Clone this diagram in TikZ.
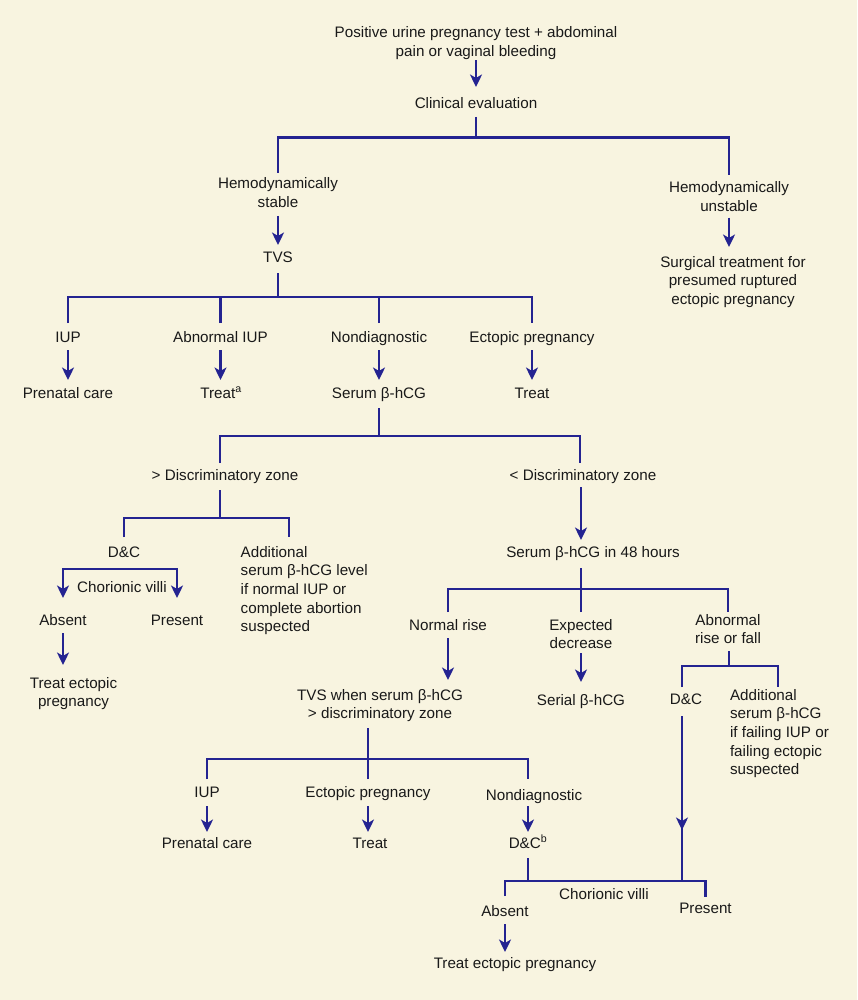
\documentclass[tikz,border=0pt]{standalone}
\usepackage{fontspec}
\setmainfont{Liberation Sans}
\usetikzlibrary{arrows.meta}
\definecolor{bgc}{RGB}{248,244,224}
\definecolor{lnc}{RGB}{36,35,145}
\definecolor{txc}{RGB}{25,25,25}
\newcommand{\fsz}{\fontsize{15.2pt}{18.7pt}\selectfont}
\begin{document}
\begin{tikzpicture}[x=1pt,y=-1pt,
  lbl/.style={font=\fsz, text=txc, inner sep=0pt, outer sep=0pt, anchor=base, align=center},
  lbll/.style={lbl, anchor=base west, align=left},
  conn/.style={draw=lnc, line width=2.9pt},
  arr/.style={conn, -{Stealth[length=12.5pt,width=12pt,inset=3.5pt]}},
]
\fill[bgc] (0,0) rectangle (857,1000);
\useasboundingbox (0,0) rectangle (857,1000);

% nodes (multi-line nodes are placed by the baseline of their last line)
\node[lbl] (top) at (476,56.7) {Positive urine pregnancy test + abdominal\\pain or vaginal bleeding};
\node[lbl] (clin) at (476,109) {Clinical evaluation};
\node[lbl] (stab) at (278,207.2) {Hemodynamically\\stable};
\node[lbl] (unst) at (729,211.7) {Hemodynamically\\unstable};
\node[lbl] (tvs) at (278,262.5) {TVS};
\node[lbl] (surg) at (733,304.4) {Surgical treatment for\\presumed ruptured\\ectopic pregnancy};
\node[lbl] (iupA) at (68,342) {IUP};
\node[lbl] (aiup) at (220.5,342) {Abnormal IUP};
\node[lbl] (ndA) at (379,342) {Nondiagnostic};
\node[lbl] (epA) at (532,342) {Ectopic pregnancy};
\node[lbl] (pcA) at (68,398) {Prenatal care};
\node[lbl] (trAa) at (221,398) {Treat\textsuperscript{a}};
\node[lbl] (ser) at (379,398) {Serum β-hCG};
\node[lbl] (trA) at (532,398) {Treat};
\node[lbl] (gz) at (225,480) {> Discriminatory zone};
\node[lbl] (lz) at (583,480) {< Discriminatory zone};
\node[lbl] (dcA) at (124,557) {D\&C};
\node[lbll] (addA) at (240.7,631.8) {Additional\\serum β-hCG level\\if normal IUP or\\complete abortion\\suspected};
\node[lbl] (cvA) at (122,592) {Chorionic villi};
\node[lbl] (absA) at (63,625) {Absent};
\node[lbl] (preA) at (177,625) {Present};
\node[lbl] (tepA) at (73.5,706.7) {Treat ectopic\\pregnancy};
\node[lbl] (h48) at (593,557) {Serum β-hCG in 48 hours};
\node[lbl] (nr) at (448,630) {Normal rise};
\node[lbl] (ed) at (581,648.7) {Expected\\decrease};
\node[lbl] (ab) at (728,643.7) {Abnormal\\rise or fall};
\node[lbl] (tvsB) at (380,718.7) {TVS when serum β-hCG\\> discriminatory zone};
\node[lbl] (serial) at (581,705) {Serial β-hCG};
\node[lbl] (dcB) at (686,704) {D\&C};
\node[lbll] (addB) at (730,774.8) {Additional\\serum β-hCG\\if failing IUP or\\failing ectopic\\suspected};
\node[lbl] (iupB) at (207,797) {IUP};
\node[lbl] (epB) at (368,797) {Ectopic pregnancy};
\node[lbl] (ndB) at (534,800) {Nondiagnostic};
\node[lbl] (pcB) at (207,848) {Prenatal care};
\node[lbl] (trB) at (370,848) {Treat};
\node[lbl] (dcb) at (528,848) {D\&C\textsuperscript{b}};
\node[lbl] (cvB) at (604,899) {Chorionic villi};
\node[lbl] (absB) at (505,916) {Absent};
\node[lbl] (preB) at (705.5,913) {Present};
\node[lbl] (tepB) at (515,968) {Treat ectopic pregnancy};

% junctions
\coordinate (j1) at (476.5,137.5);
\coordinate (j2) at (278,297);
\coordinate (j3) at (379,436);
\coordinate (k3l) at (220,436);
\coordinate (k3r) at (580,436);
\coordinate (j4) at (220,518);
\coordinate (k4r) at (289,518);
\coordinate (j5) at ([yshift=-12pt]dcA.base);
\coordinate (j6) at (581,589);
\coordinate (j7) at (729,666);
\coordinate (k7l) at (682,666);
\coordinate (k7r) at (778,666);
\coordinate (m9) at (682,830);
\coordinate (j9r) at (682,881);
\coordinate (j8) at (368,759);
\coordinate (j9) at (528,881);

% connectors
\draw[arr] ([yshift=-3.5pt]top.base) -- ([yshift=22pt]clin.base);
\draw[conn] ([yshift=-8pt]clin.base) -- (clin.base |- j1);
\draw[conn] ([yshift=34.2pt]stab.base) |- (j1) -| ([yshift=36.7pt]unst.base);
\draw[arr] ([yshift=-8.8pt]stab.base) -- ([yshift=17.5pt]tvs.base);
\draw[arr] ([yshift=-6pt]unst.base) -- ([yshift=57.4pt]unst.base |- surg.base);

\draw[conn] ([yshift=-10.5pt]tvs.base) -- (j2);
\draw[conn] ([yshift=19pt]iupA.base) |- (j2) -| ([yshift=19pt]epA.base);
\draw[conn] ([yshift=19pt]aiup.base) -- (aiup.base |- j2);
\draw[conn] ([yshift=19pt]ndA.base) -- (ndA.base |- j2);

\draw[arr] ([yshift=-8pt]iupA.base) -- ([yshift=18pt]iupA.base |- pcA.base);
\draw[arr] ([yshift=-8pt]aiup.base) -- ([yshift=18pt]aiup.base |- trAa.base);
\draw[arr] ([yshift=-8pt]ndA.base) -- ([yshift=18pt]ndA.base |- ser.base);
\draw[arr] ([yshift=-8pt]epA.base) -- ([yshift=18pt]epA.base |- trA.base);

\draw[conn] ([yshift=-10pt]ser.base) -- (j3);
\draw[conn] ([yshift=17pt]gz.base -| k3l) |- (j3) -| ([yshift=17pt]lz.base -| k3r);

\draw[conn] ([yshift=-10pt]gz.base -| j4) -- (j4);
\draw[conn] ([yshift=20pt]dcA.base) |- (j4) -| ([yshift=20pt]dcA.base -| k4r);
\draw[arr] (j5) -| ([yshift=27pt]absA.base);
\draw[arr] (j5) -| ([yshift=27pt]preA.base);
\draw[arr] ([yshift=-8pt]absA.base) -- ([yshift=41.7pt]absA.base |- tepA.base);

\draw[arr] ([yshift=-7pt]lz.base -| j6) -- ([yshift=17pt]h48.base -| j6);
\draw[conn] ([yshift=-11pt]h48.base -| j6) -- (j6);
\draw[conn] ([yshift=18pt]nr.base) |- (j6) -| ([yshift=31.7pt]ab.base);
\draw[conn] ([yshift=36.7pt]ed.base) -- (ed.base |- j6);
\draw[arr] ([yshift=-8pt]nr.base) -- ([yshift=38.7pt]nr.base |- tvsB.base);
\draw[arr] ([yshift=-4.3pt]ed.base) -- ([yshift=23pt]serial.base);

\draw[conn] ([yshift=-7.3pt]ab.base -| j7) -- (j7);
\draw[conn] ([yshift=17pt]dcB.base -| k7l) |- (j7) -| ([yshift=17pt]dcB.base -| k7r);
\draw[arr] ([yshift=-12pt]dcB.base -| k7l) -- (m9);
\draw[conn] ([yshift=4pt]m9) -- (j9r);

\draw[conn] ([yshift=-9.3pt]tvsB.base -| j8) -- (j8);
\draw[conn] ([yshift=18pt]iupB.base) |- (j8) -| ([yshift=18pt]iupB.base -| dcb.base);
\draw[conn] ([yshift=18pt]epB.base -| j8) -- (j8);
\draw[arr] ([yshift=-9pt]iupB.base) -- ([yshift=16pt]pcB.base);
\draw[arr] ([yshift=-9pt]epB.base) -- ([yshift=16pt]epB.base |- trB.base);
\draw[arr] ([yshift=-6pt]ndB.base -| dcb.base) -- ([yshift=16pt]dcb.base);

\draw[conn] ([yshift=-10pt]dcb.base) -- (j9);
\draw[conn] ([yshift=20pt]absB.base) |- (j9) -| ([yshift=16pt]preB.base);
\draw[arr] ([yshift=-8pt]absB.base) -- ([yshift=16pt]absB.base |- tepB.base);
\end{tikzpicture}
\end{document}
